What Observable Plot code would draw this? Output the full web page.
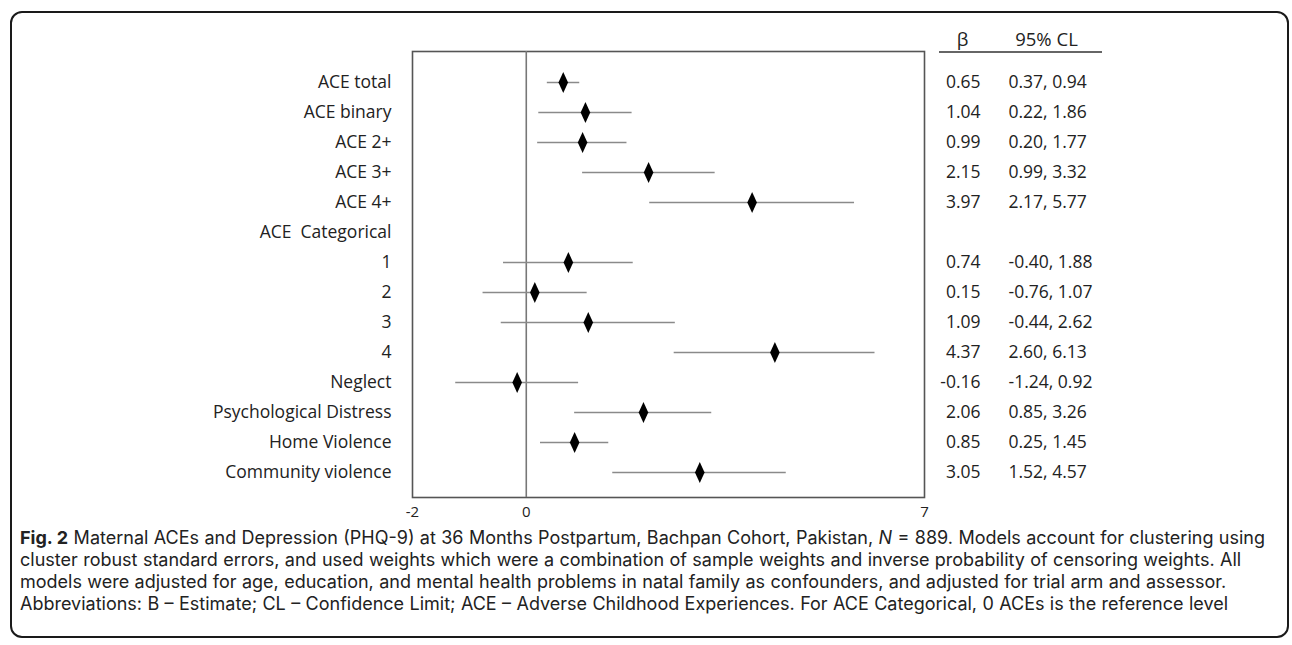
<!DOCTYPE html>
<html>
<head>
<meta charset="utf-8">
<script src="https://cdn.jsdelivr.net/npm/d3@7"></script>
<script src="https://cdn.jsdelivr.net/npm/@observablehq/plot@0.6"></script>
<style>
  html, body { margin: 0; padding: 0; background: #fff; }
  body { width: 1292px; height: 645px; position: relative; overflow: hidden; font-family: "Open Sans", sans-serif; }
  #box { position: absolute; left: 10px; top: 11px; width: 1279px; height: 627px; border: 2px solid #1a1a1a; border-radius: 12px; box-sizing: border-box; }
  #chart { position: absolute; left: 0; top: 0; }
  #caption { position: absolute; left: 20px; top: 527px; color: #222; font-family: Inter, "Open Sans", sans-serif; font-size: 18px; line-height: 22px; white-space: nowrap; }
  #caption div { white-space: nowrap; display: block; width: max-content; height: 22px; }
</style>
</head>
<body>
<div id="box"></div>
<div id="chart"></div>
<div id="caption">
  <div id="cap1"><b>Fig. 2</b> Maternal ACEs and Depression (PHQ-9) at 36 Months Postpartum, Bachpan Cohort, Pakistan, <i>N</i> = 889. Models account for clustering using</div>
  <div>cluster robust standard errors, and used weights which were a combination of sample weights and inverse probability of censoring weights. All</div>
  <div>models were adjusted for age, education, and mental health problems in natal family as confounders, and adjusted for trial arm and assessor.</div>
  <div>Abbreviations: B – Estimate; CL – Confidence Limit; ACE – Adverse Childhood Experiences. For ACE Categorical, 0 ACEs is the reference level</div>
</div>
<script>
// ---- data ----
const labels = ["ACE total", "ACE binary", "ACE 2+", "ACE 3+", "ACE 4+", "ACE\u00a0 Categorical",
  "1", "2", "3", "4", "Neglect", "Psychological Distress", "Home Violence", "Community violence"];
const beta  = [0.65, 1.04, 0.99, 2.15, 3.97, null, 0.74, 0.15, 1.09, 4.37, -0.16, 2.06, 0.85, 3.05];
const lower = [0.37, 0.22, 0.20, 0.99, 2.17, null, -0.40, -0.76, -0.44, 2.60, -1.24, 0.85, 0.25, 1.52];
const upper = [0.94, 1.86, 1.77, 3.32, 5.77, null, 1.88, 1.07, 2.62, 6.13, 0.92, 3.26, 1.45, 4.57];
const xTicks = [-2, 0, 7];
const headers = ["β", "95% CL"];

const rows = labels.map((label, i) => ({label, beta: beta[i], lower: lower[i], upper: upper[i]}));
const dataRows = rows.filter(d => d.beta != null);

const tallDiamond = {
  draw(ctx) {
    const w = 4.8, h = 10.5;
    ctx.moveTo(0, -h); ctx.lineTo(w, 0); ctx.lineTo(0, h); ctx.lineTo(-w, 0); ctx.closePath();
  }
};

const fmt = v => v == null ? "" : v.toFixed(2);

const W = 1292, H = 525;
const plot = Plot.plot({
  width: W,
  height: H,
  marginLeft: 412,
  marginRight: W - 924,
  marginTop: 51,
  marginBottom: H - 497,
  insetTop: 31,
  insetBottom: 25,
  style: {fontFamily: "'Open Sans', sans-serif", color: "#222", background: "transparent", overflow: "visible"},
  x: {domain: [-2, 7], ticks: xTicks},
  y: {domain: labels, padding: 0},
  marks: [
    Plot.frame({stroke: "#555", strokeWidth: 1.6}),
    Plot.ruleX([0], {stroke: "#777", strokeWidth: 1.6}),
    Plot.ruleY(dataRows, {y: "label", x1: "lower", x2: "upper", stroke: "#8a8a8a", strokeWidth: 1.6}),
    Plot.dot(dataRows, {x: "beta", y: "label", symbol: tallDiamond, fill: "#000", stroke: "none"}),
    Plot.axisX({ticks: xTicks, tickSize: 0, tickPadding: 9, fontSize: 15, label: null, tickFormat: d => String(d)}),
    Plot.axisY({tickSize: 0, tickPadding: 21, fontSize: 17.5, label: null}),
    // right-hand table
    Plot.text(rows, {y: "label", text: d => fmt(d.beta), frameAnchor: "right", dx: 56, textAnchor: "end", fontSize: 17.5, fill: "#222"}),
    Plot.text(rows, {y: "label", text: d => d.beta == null ? "" : `${fmt(d.lower)}, ${fmt(d.upper)}`, frameAnchor: "right", dx: 84, textAnchor: "start", fontSize: 17.5, fill: "#222"}),
    Plot.text([headers[0]], {text: d => d, frameAnchor: "top-right", dx: 38, dy: -6, lineAnchor: "bottom", textAnchor: "middle", fontSize: 18.5, fill: "#222"}),
    Plot.text([headers[1]], {text: d => d, frameAnchor: "top-right", dx: 122, dy: -6, lineAnchor: "bottom", textAnchor: "middle", fontSize: 18.5, fill: "#222"})
  ]
});
document.getElementById("chart").appendChild(plot);

// header underline beneath the table headings
const xs = plot.scale("x");
const xr = xs.apply(7);
d3.select(plot).append("line")
  .attr("x1", xr + 15).attr("x2", xr + 178)
  .attr("y1", 52).attr("y2", 52)
  .attr("stroke", "#333").attr("stroke-width", 1.6);

// fit caption line length once fonts are ready
function fitCaption() {
  const cap = document.getElementById("caption");
  const l1 = document.getElementById("cap1");
  const target = 1245;
  cap.style.wordSpacing = "0px";
  const w = l1.getBoundingClientRect().width;
  const spaces = (l1.textContent.trim().match(/\s+/g) || []).length;
  const extra = (target - w) / spaces;
  cap.style.wordSpacing = Math.max(-1.5, Math.min(3, extra)).toFixed(3) + "px";
}
fitCaption();
if (document.fonts && document.fonts.ready) document.fonts.ready.then(fitCaption);
</script>
</body>
</html>
